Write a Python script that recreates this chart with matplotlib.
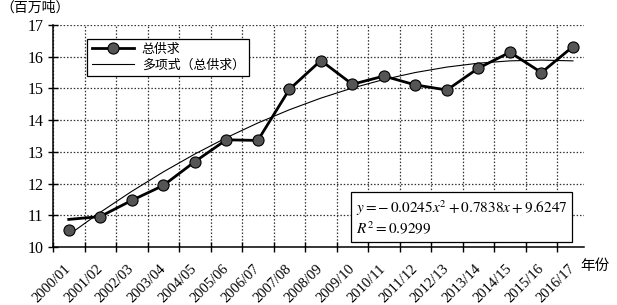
import numpy as np
import matplotlib.pyplot as plt
from matplotlib.ticker import FixedLocator, NullFormatter

plt.rcParams['font.family'] = ['Liberation Serif', 'Noto Sans CJK SC']
plt.rcParams['mathtext.fontset'] = 'stix'

years = ['2000/01', '2001/02', '2002/03', '2003/04', '2004/05', '2005/06',
         '2006/07', '2007/08', '2008/09', '2009/10', '2010/11', '2011/12',
         '2012/13', '2013/14', '2014/15', '2015/16', '2016/17']
supply = [10.54, 10.96, 11.47, 11.94, 12.69, 13.38, 13.36, 14.97, 15.88,
          15.13, 15.39, 15.11, 14.95, 15.64, 16.14, 15.50, 16.32]
# the thick line in the source starts a bit above the first marker
line_start = 10.87
trend_coef = [-0.0245, 0.7838, 9.6247]

fig = plt.figure(figsize=(6.17, 3.05), dpi=100)
ax = fig.add_axes([53 / 617, 1 - 247 / 305, 531 / 617, 222 / 305])

xc = np.arange(len(years)) + 0.5
line_y = [line_start] + supply[1:]
ax.plot(xc, line_y, color='black', lw=2, zorder=3)
ax.plot(xc, supply, ls='none', marker='o', ms=8, mfc='#555555',
        mec='black', mew=0.8, zorder=4)

xt = np.arange(1, len(years) + 1)
ax.plot(xc, np.polyval(trend_coef, xt), color='black', lw=0.8, zorder=2)

# legend proxies
h1, = ax.plot([], [], color='black', lw=2, marker='o', ms=8,
              mfc='#555555', mec='black', mew=0.8)
h2, = ax.plot([], [], color='black', lw=0.8)
leg = ax.legend([h1, h2], ['总供求', '多项式（总供求）'], loc='upper left',
                bbox_to_anchor=(0.064, 0.937), fontsize=9.3, frameon=True,
                fancybox=False, framealpha=1, edgecolor='black',
                handlelength=3.3, handletextpad=0.6, borderpad=0.35,
                labelspacing=0.3, borderaxespad=0)
leg.get_frame().set_linewidth(0.9)

ax.set_xlim(0, 16.85)
ax.set_ylim(10, 17)
ax.set_yticks(range(10, 18))
ax.set_xticks(xc)
ax.set_xticklabels(years, rotation=45, ha='right', va='center',
                   rotation_mode='anchor', fontsize=10.5)
ax.xaxis.set_minor_locator(FixedLocator(np.arange(0, 17)))
ax.xaxis.set_minor_formatter(NullFormatter())
ax.tick_params(axis='x', which='major', length=0, pad=14)
ax.tick_params(axis='x', which='minor', direction='inout', length=7, width=1)
ax.tick_params(axis='y', direction='inout', length=7, width=1, labelsize=11.5)

ax.grid(axis='y', which='major', ls=(0, (1.2, 1.5)), color='#333333', lw=0.9)
ax.grid(axis='x', which='minor', ls=(0, (1.2, 1.5)), color='#333333', lw=0.9)
ax.set_axisbelow(True)
for s in ['top', 'right']:
    ax.spines[s].set_visible(False)
ax.spines['left'].set_linewidth(1.1)
ax.spines['bottom'].set_linewidth(1.1)

ax.text(0.57, 0.13, '$y = -\\,0.0245x^2 + 0.7838x + 9.6247$\n$R^2 = 0.9299$',
        transform=ax.transAxes, fontsize=11, va='center', ha='left',
        linespacing=1.15, zorder=5,
        bbox=dict(boxstyle='square,pad=0.3', fc='white', ec='black', lw=0.9))

fig.text(0, 1 - 8 / 305, '（百万吨）', fontsize=10, va='center', ha='left',
         family=['Noto Sans CJK SC'])
fig.text(580 / 617, 1 - 266 / 305, '年份', fontsize=10.5, va='center', ha='left',
         family=['Noto Sans CJK SC'])

fig.savefig('out.png', dpi=100)
